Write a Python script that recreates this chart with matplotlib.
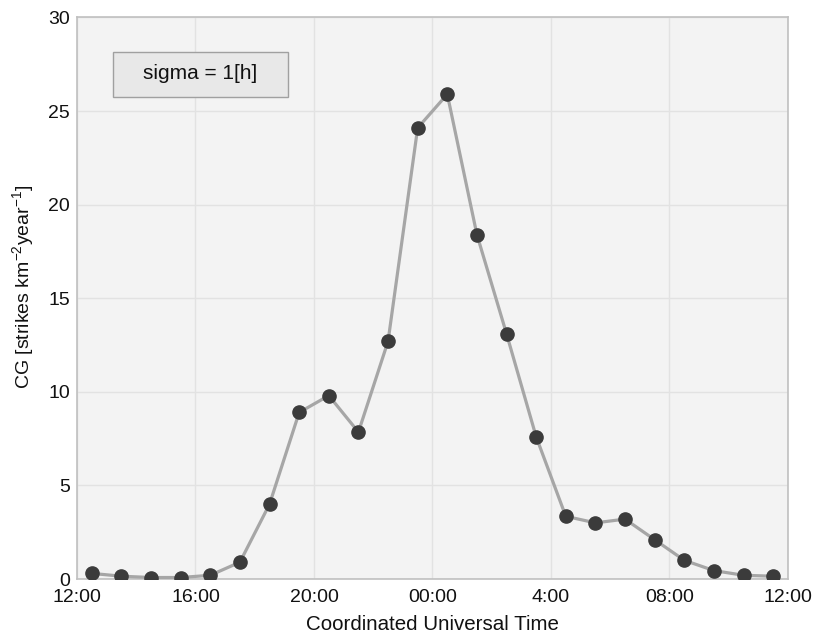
import matplotlib
matplotlib.use("Agg")
import matplotlib.pyplot as plt
from matplotlib.patches import Rectangle

plt.rcParams['font.family'] = ['Liberation Sans', 'DejaVu Sans']
plt.rcParams['mathtext.fontset'] = 'custom'
plt.rcParams['mathtext.rm'] = 'Liberation Sans'
plt.rcParams['mathtext.it'] = 'Liberation Sans:italic'

# hours after 12:00 UTC (half-hour centres)
hours = [0.5, 1.5, 2.5, 3.5, 4.5, 5.5, 6.5, 7.5, 8.5, 9.5, 10.5, 11.5,
         12.5, 13.5, 14.5, 15.5, 16.5, 17.5, 18.5, 19.5, 20.5, 21.5, 22.5, 23.5]
cg = [0.3, 0.15, 0.08, 0.08, 0.2, 0.9, 4.0, 8.9, 9.8, 7.85, 12.7, 24.1,
      25.9, 18.4, 13.1, 7.6, 3.35, 3.0, 3.2, 2.1, 1.0, 0.45, 0.2, 0.15]
tick_pos = [0, 4, 8, 12, 16, 20, 24]
tick_labels = ['12:00', '16:00', '20:00', '00:00', '4:00', '08:00', '12:00']
y_ticks = [0, 5, 10, 15, 20, 25, 30]

fig = plt.figure(figsize=(8.14, 6.41), dpi=100)
ax = fig.add_axes([0.0946, 0.0967, 0.8734, 0.8760])
ax.set_facecolor('#f3f3f3')

ax.plot(hours, cg, color='#a6a6a6', lw=2.3, zorder=3)
ax.plot(hours, cg, 'o', color='#3b3b3b', ms=9.5, mec='#3b3b3b', zorder=4)

ax.set_xlim(0, 24)
ax.set_ylim(0, 30)
ax.set_xticks(tick_pos)
ax.set_xticklabels(tick_labels)
ax.set_yticks(y_ticks)
ax.grid(True, color='#e2e2e2', lw=1)
ax.set_axisbelow(True)
ax.tick_params(length=0, labelsize=14, colors='#111111')
ax.tick_params(axis='x', pad=7)
ax.tick_params(axis='y', pad=5)
for s in ax.spines.values():
    s.set_color('#c0c0c0')
    s.set_linewidth(1.2)

ax.set_xlabel('Coordinated Universal Time', fontsize=14.8, labelpad=7, color='#111111')
ax.set_ylabel('CG [strikes km$^{-2}$year$^{-1}$]', fontsize=14, color='#111111')
ax.yaxis.set_label_coords(-0.058, 0.52)

ax.add_patch(Rectangle((0.0506, 0.8585), 0.2462, 0.0801, transform=ax.transAxes,
                       fc='#e8e8e8', ec='#a0a0a0', lw=1, zorder=5))
ax.text(0.1737, 0.9003, 'sigma = 1[h]', transform=ax.transAxes, ha='center', va='center',
        fontsize=15, color='#111111', zorder=6)

fig.savefig('out.png', dpi=100)
